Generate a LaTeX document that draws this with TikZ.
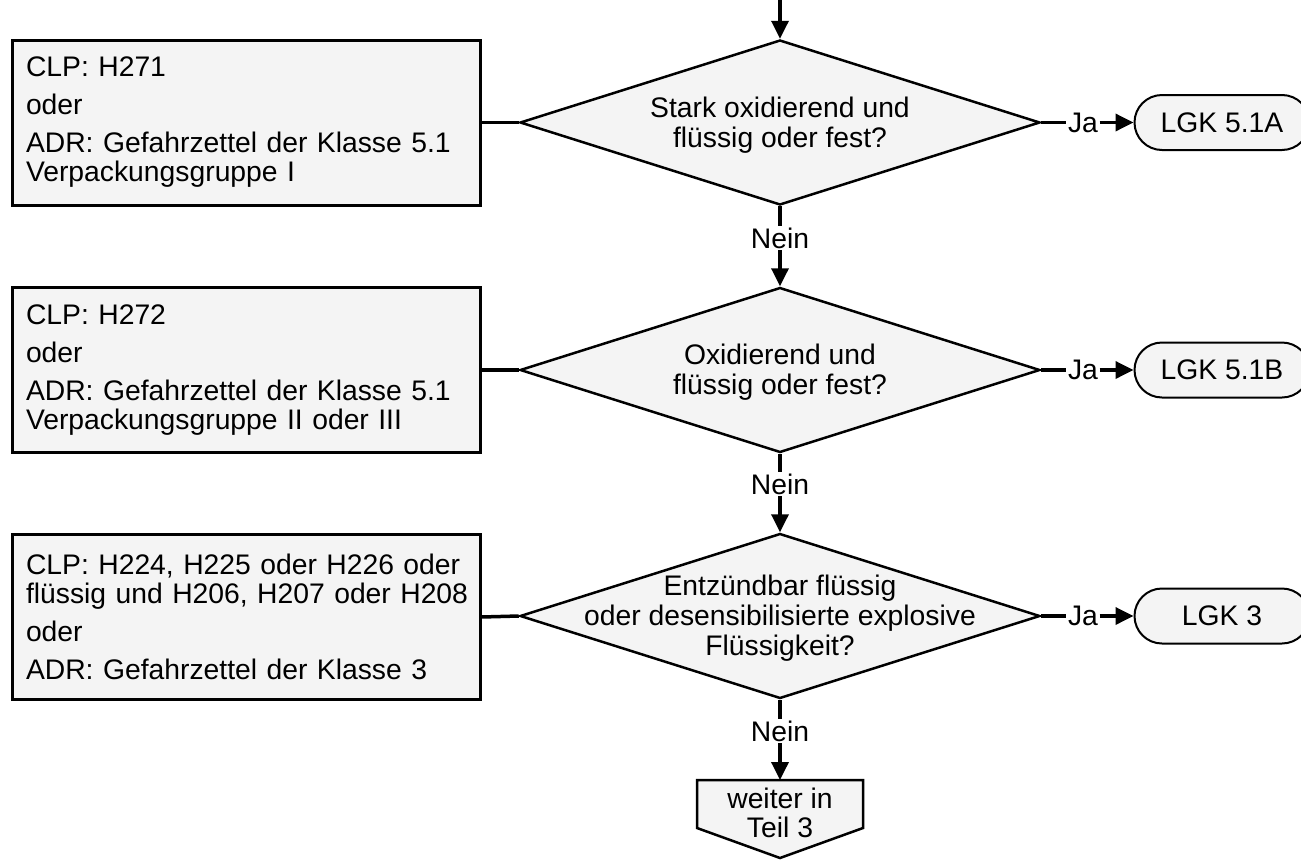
\documentclass[tikz,border=0pt]{standalone}
\usepackage{fontspec}
\setmainfont{Liberation Sans}
\usetikzlibrary{arrows.meta,shapes.geometric}
\definecolor{boxfill}{HTML}{F4F4F4}
\begin{document}
\begin{tikzpicture}[x=1pt,y=-1pt,
  every node/.style={font=\fontsize{28.3}{29}\selectfont},
  infobox/.style={draw, line width=3pt, fill=boxfill, minimum width=468pt, minimum height=165pt,
    inner xsep=14pt, inner ysep=0pt, align=left, text width=440pt},
  decision/.style={diamond, draw, line width=2.5pt, fill=boxfill, minimum width=520pt,
    minimum height=165pt, inner sep=0pt},
  dtext/.style={align=center, font=\fontsize{28.3}{30}\selectfont},
  term/.style={draw, line width=2pt, fill=boxfill, rounded corners=27.5pt, minimum width=175pt,
    minimum height=55pt, inner sep=0pt},
  lbl/.style={inner sep=1.5pt},
  conn/.style={line width=3.5pt},
  arr/.style={conn, -{Triangle[length=18pt,width=17pt]}}
]
\useasboundingbox (0,0) rectangle (1301,860);

% row 1
\node[infobox] (b1) at (246,122.5) {CLP: H271\\[9pt]oder\\[9pt]ADR: Gefahrzettel der Klasse 5.1\\Verpackungsgruppe I};
\node[decision] (d1) at (780,122.5) {};
\node[dtext] (d1t) at (780,125) {Stark oxidierend und\\flüssig oder fest?};
\node[term] (t1) at (1222,122.5) {LGK 5.1A};
\node[lbl] (j1) at (1083,122.5) {Ja};

% row 2
\node[infobox] (b2) at (246,370) {CLP: H272\\[9pt]oder\\[9pt]ADR: Gefahrzettel der Klasse 5.1\\Verpackungsgruppe II oder III};
\node[decision] (d2) at (780,370) {};
\node[dtext] (d2t) at (780,372.5) {Oxidierend und\\flüssig oder fest?};
\node[term] (t2) at (1222,370) {LGK 5.1B};
\node[lbl] (j2) at (1083,370) {Ja};

% row 3
\node[infobox] (b3) at (246,617) {\mbox{CLP: H224, H225 oder H226 oder}\\\mbox{flüssig und H206, H207 oder H208}\\[9pt]oder\\[9pt]ADR: Gefahrzettel der Klasse 3};
\node[decision] (d3) at (780,616) {};
\node[dtext] (d3t) at (780,618) {Entzündbar flüssig\\oder desensibilisierte explosive\\Flüssigkeit?};
\node[term] (t3) at (1222,616) {LGK 3};
\node[lbl] (j3) at (1083,616) {Ja};

% Nein labels
\node[lbl] (n1) at (780,238) {Nein};
\node[lbl] (n2) at (780,484) {Nein};
\node[lbl] (n3) at (780,731) {Nein};

% continuation
\draw[line width=2.5pt, fill=boxfill] (697,780) -- (863,780) -- (863,828) -- (780,858) -- (697,828) -- cycle;
\node[anchor=north, inner ysep=8pt, inner xsep=0pt, minimum width=166pt, align=center, font=\fontsize{28.3}{29}\selectfont] (p) at (780,780) {weiter in\\Teil 3};

\coordinate (start) at (780,0);

% connectors
\draw[arr] (start) -- (d1.north);
\draw[conn] (b1.east) -- (d1.west);
\draw[conn] (b2.east) -- (d2.west);
\draw[conn] (b3.east) -- (d3.west);
\draw[conn] (d1.east) -- (j1.west);
\draw[conn] (d2.east) -- (j2.west);
\draw[conn] (d3.east) -- (j3.west);
\draw[arr] (j1.east) -- (t1.west);
\draw[arr] (j2.east) -- (t2.west);
\draw[arr] (j3.east) -- (t3.west);
\draw[conn] (d1.south) -- (n1.north);
\draw[arr] (n1.south) -- (d2.north);
\draw[conn] (d2.south) -- (n2.north);
\draw[arr] (n2.south) -- (d3.north);
\draw[conn] (d3.south) -- (n3.north);
\draw[arr] (n3.south) -- (p.north);
\end{tikzpicture}
\end{document}
